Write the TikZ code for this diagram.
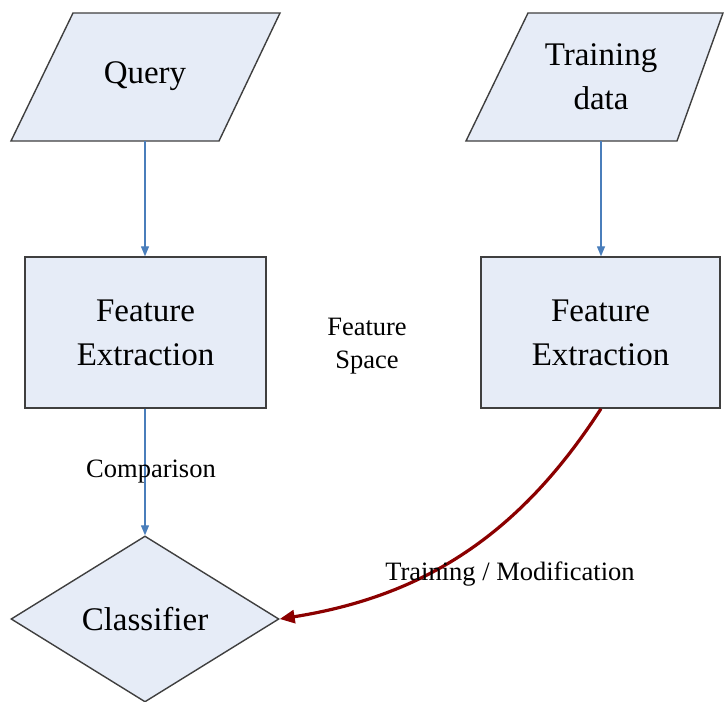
\documentclass[tikz,border=0pt]{standalone}
\usepackage{fontspec}
\setmainfont{Liberation Serif}
\usetikzlibrary{shapes.geometric,arrows.meta}
\definecolor{boxfill}{HTML}{E6ECF7}
\definecolor{boxline}{HTML}{3F3F3F}
\definecolor{flowblue}{HTML}{4A7EBB}
\definecolor{trainred}{HTML}{8B0000}
\begin{document}
\begin{tikzpicture}[x=1pt,y=-1pt,
  shapeline/.style={draw=boxline,line width=1.4pt,fill=boxfill},
  bigtext/.style={font=\fontsize{33}{44}\selectfont,align=center,inner sep=0pt},
  smalltext/.style={font=\fontsize{26.5}{33}\selectfont,align=center,inner sep=0pt},
  procbox/.style={shapeline,rectangle,minimum height=151pt,bigtext},
  decbox/.style={shapeline,diamond,minimum width=268pt,minimum height=166pt,bigtext},
  flow/.style={draw=flowblue,line width=1.3pt,-{Triangle[length=10pt,width=8pt]}},
  trainarrow/.style={draw=trainred,line width=3.2pt,-{Triangle[length=15pt,width=13pt]}}]
\useasboundingbox (0,0) rectangle (724,702);
% input parallelograms
\draw[shapeline] (73,13) -- (280,13) -- (219,141) -- (11,141) -- cycle;
\draw[shapeline] (528,13) -- (723,13) -- (677,141) -- (466,141) -- cycle;
\node[bigtext] (query) at (145,76) {Query};
\node[bigtext] (train) at (601,77) {Training\\data};
\coordinate (qb) at (145,141);
\coordinate (tb) at (601,141);
% process boxes
\node[procbox,minimum width=241pt] (fe1) at (145.5,332.5) {Feature\\Extraction};
\node[procbox,minimum width=239pt] (fe2) at (600.5,332.5) {Feature\\Extraction};
% classifier
\node[decbox] (cls) at (145,619) {Classifier};
% connectors
\draw[flow] (qb) -- (fe1.north -| qb);
\draw[flow] (tb) -- (fe2.north -| tb);
\coordinate (fe1b) at (fe1.south -| qb);
\draw[flow] (fe1b) -- (cls.north);
\coordinate (fe2b) at (fe2.south -| tb);
\draw[trainarrow] (fe2b) .. controls (520,534) and (425,596) .. (cls.east);
% labels
\node[smalltext] (cmp) at (151,472) {Comparison};
\node[smalltext] (fs) at (367,346) {Feature\\Space};
\node[smalltext] (tm) at (510,574) {Training / Modification};
\end{tikzpicture}
\end{document}
